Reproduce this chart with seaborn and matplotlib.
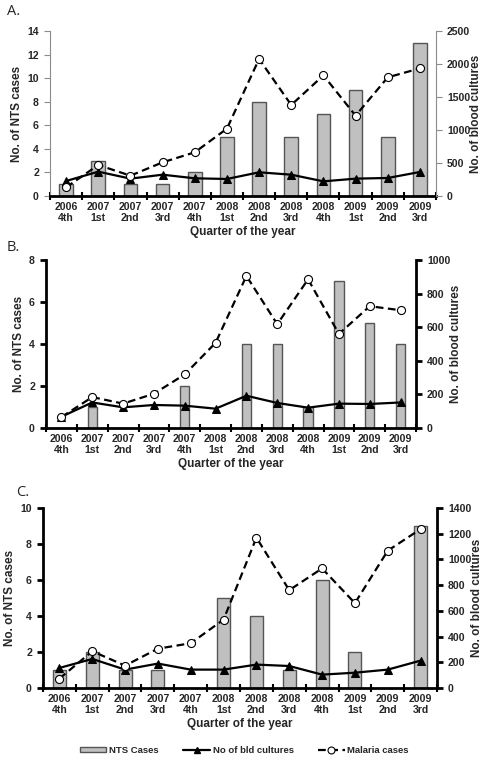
import numpy as np
import matplotlib
matplotlib.use("Agg")
import matplotlib.pyplot as plt
import seaborn as sns
from matplotlib.patches import Patch
from matplotlib.lines import Line2D

quarters = ["2006\n4th", "2007\n1st", "2007\n2nd", "2007\n3rd", "2007\n4th", "2008\n1st",
            "2008\n2nd", "2008\n3rd", "2008\n4th", "2009\n1st", "2009\n2nd", "2009\n3rd"]

nts_a = [1, 3, 1, 1, 2, 5, 8, 5, 7, 9, 5, 13]
blood_a = [227, 369, 263, 323, 268, 258, 359, 323, 222, 263, 273, 364]
malaria_a = [131, 470, 308, 510, 662, 1020, 2076, 1379, 1828, 1217, 1798, 1934]

nts_b = [0, 1, 0, 0, 2, 0, 4, 4, 1, 7, 5, 4]
blood_b = [67, 152, 123, 137, 133, 115, 192, 149, 121, 145, 143, 152]
malaria_b = [65, 184, 145, 204, 319, 507, 905, 618, 885, 560, 725, 701]

nts_c = [1, 2, 1, 1, 0, 5, 4, 1, 6, 2, 0, 9]
blood_c = [156, 226, 143, 190, 143, 143, 182, 171, 104, 119, 143, 213]
malaria_c = [73, 286, 174, 306, 348, 532, 1169, 761, 930, 660, 1068, 1236]

left_label = "No. of NTS cases"
right_label = "No. of blood cultures"
x_label = "Quarter of the year"
legend_labels = ["NTS Cases", "No of bld cultures", "Malaria cases"]

sns.set_theme(style="white")
plt.rcParams['font.family'] = ['Liberation Sans', 'DejaVu Sans']
plt.rcParams['font.weight'] = 'bold'

fig = plt.figure(figsize=(4.84, 7.57), dpi=100)

BAR_C = '#c0c0c0'
BAR_E = '#555555'
TICK_FS = 7.6
LAB_FS = 8.5
DASH = (0, (3.5, 2.0))


def panel(rect, nts, blood, malaria, lmax, lstep, rmax, rstep, bw, thin):
    ax = fig.add_axes(rect)
    sns.barplot(x=quarters, y=nts, ax=ax, color=BAR_C, edgecolor=BAR_E,
                linewidth=1.0, width=bw, saturation=1)
    ax2 = ax.twinx()
    xs = np.arange(len(quarters))
    sns.lineplot(x=xs, y=blood, ax=ax2, color='black', lw=1.6, marker='^',
                 markersize=6, markeredgecolor='black', markerfacecolor='black')
    sns.lineplot(x=xs, y=malaria, ax=ax2, color='black', lw=1.6, linestyle=DASH,
                 marker='o', markersize=5.8, markerfacecolor='white',
                 markeredgecolor='black', markeredgewidth=0.8)
    sns.scatterplot(x=xs, y=malaria, ax=ax2, color='black', s=3.5, linewidth=0)
    ax.set_xlim(-0.5, len(quarters) - 0.5)
    ax.set_ylim(0, lmax)
    ax.set_yticks(np.arange(0, lmax + 0.01, lstep))
    ax2.set_ylim(0, rmax)
    ax2.set_yticks(np.arange(0, rmax + 0.01, rstep))
    ax.set_xticks(np.arange(-0.5, len(quarters), 1), minor=True)
    ax.tick_params(axis='x', which='major', length=0, labelsize=TICK_FS, pad=4)
    ax.tick_params(axis='x', which='minor', direction='inout', length=6,
                   width=1.5, color='black', bottom=True)
    for s in ['top', 'right']:
        ax.spines[s].set_visible(False)
    for s in ['top', 'left', 'bottom']:
        ax2.spines[s].set_visible(False)
    ax.spines['bottom'].set_color('black')
    ax.spines['bottom'].set_linewidth(2.0)
    if thin:
        sc, sw = '#8c8c8c', 0.8
    else:
        sc, sw = 'black', 2.0
    ax.spines['left'].set_color(sc)
    ax.spines['left'].set_linewidth(sw)
    ax2.spines['right'].set_color(sc)
    ax2.spines['right'].set_linewidth(sw)
    ax.tick_params(axis='y', which='major', left=True, direction='out', length=4,
                   width=sw, color=sc, labelsize=TICK_FS, pad=4)
    ax2.tick_params(axis='y', which='major', right=True, direction='out', length=4,
                    width=sw, color=sc, labelsize=TICK_FS, pad=4)
    ax.set_ylabel(left_label, fontsize=LAB_FS, fontweight='bold', labelpad=3)
    ax2.set_ylabel(right_label, fontsize=LAB_FS, fontweight='bold', labelpad=0)
    ax.set_xlabel(x_label, fontsize=LAB_FS, fontweight='bold', labelpad=2)
    for t in ax.get_xticklabels() + ax.get_yticklabels() + ax2.get_yticklabels():
        t.set_fontweight('bold')
    ax.grid(False)
    ax2.grid(False)
    return ax, ax2


H = 757.0
W = 484.0


def rect(l, r, t, b):
    return [l / W, (H - b) / H, (r - l) / W, (b - t) / H]


panel(rect(50, 436, 31, 196), nts_a, blood_a, malaria_a, 14, 2, 2500, 500, 0.42, True)
panel(rect(46, 416, 260, 428), nts_b, blood_b, malaria_b, 8, 2, 1000, 200, 0.30, False)
panel(rect(43, 437, 508, 688), nts_c, blood_c, malaria_c, 10, 2, 1400, 200, 0.40, False)

for txt, x, y in [("A.", 7, 4), ("B.", 7, 240), ("C.", 16, 485)]:
    fig.text(x / W, 1 - y / H, txt, fontsize=10.5, fontweight='normal',
             family=['Open Sans', 'DejaVu Sans'], va='top', ha='left')

handles = [
    Patch(facecolor=BAR_C, edgecolor=BAR_E, linewidth=1.0),
    Line2D([0], [0], color='black', lw=1.6, marker='^', markersize=5),
    Line2D([0], [0], color='black', lw=1.6, linestyle=DASH, marker='o', markersize=5,
           markerfacecolor='white', markeredgewidth=0.8),
]
leg = fig.legend(handles, legend_labels, loc='center', bbox_to_anchor=(0.505, 6.5 / H),
                 ncol=3, frameon=False, fontsize=6.8, handlelength=2.8,
                 handleheight=0.5, columnspacing=2.6, handletextpad=0.3)

fig.savefig("out.png", dpi=100)
